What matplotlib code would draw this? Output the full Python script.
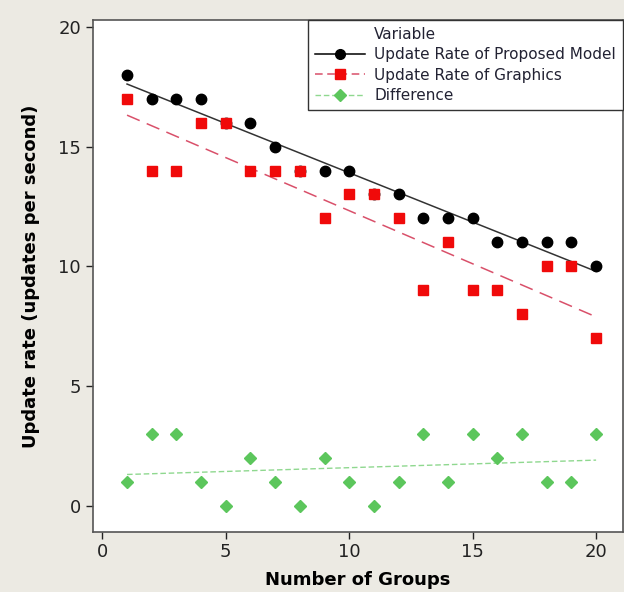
import matplotlib.pyplot as plt
import numpy as np
from matplotlib.lines import Line2D

groups = np.arange(1, 21)
proposed = np.array([18, 17, 17, 17, 16, 16, 15, 14, 14, 14, 13, 13, 12, 12, 12, 11, 11, 11, 11, 10])
graphics = np.array([17, 14, 14, 16, 16, 14, 14, 14, 12, 13, 13, 12, 9, 11, 9, 9, 8, 10, 10, 7])
difference = np.array([1, 3, 3, 1, 0, 2, 1, 0, 2, 1, 0, 1, 3, 1, 3, 2, 3, 1, 1, 3])

bg = '#ECEAE3'
fig = plt.figure(figsize=(6.24, 5.92), dpi=100, facecolor=bg)
ax = fig.add_axes([0.1486, 0.1019, 0.8494, 0.8643])
ax.set_facecolor('white')

# fitted lines
xs = np.array([groups.min(), groups.max()])
p1 = np.polyfit(groups, proposed, 1)
p2 = np.polyfit(groups, graphics, 1)
p3 = np.polyfit(groups, difference, 1)
ax.plot(xs, np.polyval(p1, xs), color='#333333', lw=1.1, zorder=2)
ax.plot(xs, np.polyval(p2, xs), color='#D9506A', lw=1.1, dashes=(9, 5), zorder=2)
ax.plot(xs, np.polyval(p3, xs), color='#8FD88F', lw=1.0, dashes=(4, 2), zorder=2)

ax.plot(groups, proposed, 'o', color='black', ms=7.5, zorder=3)
ax.plot(groups, graphics, 's', color='#F00A0A', ms=7, mec='#F00A0A', zorder=4)
ax.plot(groups, difference, 'D', color='#5CC65C', ms=6, mec='#5CC65C', zorder=4)

ax.set_xlim(-0.39, 21.08)
ax.set_ylim(-1.09, 20.29)
ax.set_xticks([0, 5, 10, 15, 20])
ax.set_yticks([0, 5, 10, 15, 20])
ax.tick_params(direction='out', length=5, width=1, labelsize=13, colors='#222222')
for s in ax.spines.values():
    s.set_color('#555555')
    s.set_linewidth(1.2)

ax.set_xlabel('Number of Groups', fontsize=13, fontweight='bold', labelpad=7)
ax.set_ylabel('Update rate (updates per second)', fontsize=13, fontweight='bold', labelpad=13)

handles = [
    Line2D([], [], linestyle='none'),
    Line2D([], [], color='black', lw=1.1, marker='o', ms=7),
    Line2D([], [], color='#D9506A', lw=1.1, dashes=(5, 3), marker='s', ms=7, mfc='#F00A0A', mec='#F00A0A'),
    Line2D([], [], color='#8FD88F', lw=1.0, dashes=(4, 2), marker='D', ms=6, mfc='#5CC65C', mec='#5CC65C'),
]
labels = ['Variable', 'Update Rate of Proposed Model', 'Update Rate of Graphics', 'Difference']
leg = ax.legend(handles, labels, loc='upper right', borderaxespad=0, fontsize=11,
                handlelength=3.3, handletextpad=0.6, fancybox=False, framealpha=1,
                edgecolor='#333333', labelspacing=0.35, borderpad=0.45)
leg.get_frame().set_linewidth(1.0)
for t in leg.get_texts():
    t.set_color('#222233')

fig.savefig('out.png', dpi=100, facecolor=bg)
